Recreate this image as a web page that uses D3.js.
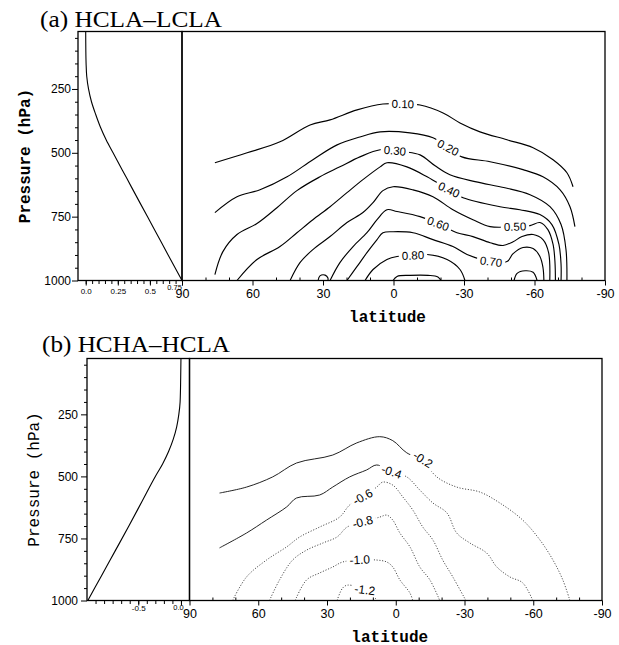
<!DOCTYPE html>
<html>
<head>
<meta charset="utf-8">
<script src="https://cdn.jsdelivr.net/npm/d3@7"></script>
<style>
  body { margin: 0; background: #fff; }
  svg { display: block; }
</style>
</head>
<body>
<svg id="chart" width="619" height="645"></svg>
<script>
// ---------- data ----------
const PRESSURE_TICKS = [250, 500, 750, 1000];
const LAT_TICKS = [90, 60, 30, 0, -30, -60, -90];

// zonal-mean profiles in the small left panels
const PROFILE_P_A = [25, 100, 150, 200, 250, 300, 350, 400, 450, 500, 600, 700, 800, 900, 1000];
const PROFILE_V_A = [0.0, 0.001, 0.003, 0.008, 0.022, 0.045, 0.078, 0.115, 0.16, 0.213, 0.32, 0.427, 0.535, 0.642, 0.75];
const PROFILE_TICKS_A = [0, 0.25, 0.5, 0.75];

const PROFILE_P_B = [25, 100, 200, 250, 300, 350, 400, 450, 500, 600, 700, 800, 900, 1000];
const PROFILE_V_B = [0.0, -0.003, -0.01, -0.025, -0.05, -0.09, -0.145, -0.215, -0.30, -0.455, -0.61, -0.77, -0.93, -1.09];
const PROFILE_TICKS_B = [-0.5, 0.0];

// contour lines, points are [latitude, pressure]
const CONTOUR_VALUES_A = [0.1, 0.2, 0.3, 0.4, 0.5, 0.6, 0.7, 0.8, 0.8, 0.9, 0.6];
const CONTOUR_LINES_A = [
  [[76,539],[62.3,500],[48.3,457],[35.5,391],[27,371],[15.5,332],[4.5,309],[-4,309],[-11.3,313],[-21.1,344],[-28.3,383],[-36.8,418],[-48.3,449],[-59.4,480],[-67.9,527],[-73.8,578],[-76.4,633]],
  [[76,734],[66.6,672],[56.8,645],[45.3,594],[34.3,527],[24,469],[14.3,438],[5.7,418],[-7,422],[-16.8,441],[-23.2,480],[-29.1,516],[-41.1,535],[-55.1,566],[-63.6,594],[-70.9,645],[-75.1,711],[-77.2,789]],
  [[76,977],[72.6,887],[66.6,820],[58.1,777],[49.6,715],[41.1,648],[31.3,594],[22.8,555],[14.3,516],[5.7,488],[-0.6,492],[-4.9,496],[-11.3,508],[-17.7,551],[-24,586],[-34.7,613],[-47.4,637],[-58.1,664],[-66.6,711],[-71.3,781],[-73.4,879],[-73.8,1000]],
  [[66.6,1000],[58.1,918],[48.3,867],[41.1,813],[34.3,762],[27,711],[19.8,656],[13,605],[5.7,555],[2.8,539],[-5.7,555],[-14.3,594],[-23.6,645],[-29.6,676],[-45.3,711],[-53.8,723],[-62.3,742],[-67.4,781],[-70.4,859],[-71.3,937],[-71.3,1000]],
  [[44,1000],[39.8,930],[34.3,879],[27,828],[19.8,773],[13,734],[8.7,695],[4.5,648],[0.2,633],[-8.3,645],[-16.8,672],[-25.3,723],[-33.8,762],[-41.1,789],[-51.7,789],[-58.1,785],[-62.3,773],[-65.7,801],[-67.9,859],[-68.7,926],[-68.9,1000]],
  [[27,1000],[22.8,930],[17.2,867],[11.3,813],[7,762],[2.8,723],[-1.5,730],[-11.3,750],[-19.8,781],[-27,813],[-33.8,828],[-41.1,852],[-46.6,863],[-50.9,848],[-54.7,828],[-59.4,820],[-63.6,840],[-66,891],[-66.5,1000]],
  [[19.8,1000],[15.5,945],[11.3,891],[7,840],[4.5,813],[0.2,809],[-8.3,813],[-16.8,840],[-25.3,867],[-31.3,898],[-41.5,926],[-48.3,926],[-50.9,895],[-55.1,871],[-59.4,875],[-62.3,906],[-63.6,949],[-64,1000]],
  [[12.1,1000],[8.7,957],[2.8,918],[-1.5,906],[-8.3,902],[-14.3,898],[-22.8,918],[-28.3,957],[-30.4,1000]],
  [[-51.3,1000],[-52.6,972],[-56,962],[-59.4,968],[-61.1,1000]],
  [[0.2,1000],[-1.5,984],[-7,980],[-14.7,980],[-18.9,986],[-20.2,1000]],
  [[32.1,1000],[31.3,982],[29.1,979],[27.9,990],[27.9,1000]]
];
const LABEL_LAT_A = [-4, -23.2, -0.6, -23.6, -51.7, -19, -41.5, -8.3, null, null, null];

const CONTOUR_VALUES_B = [-0.2, -0.4, -0.6, -0.8, -1.0, -1.2];
const CONTOUR_LINES_B = [
  [[76.9,567],[65.1,543],[53.7,502],[43.3,446],[27.5,414],[17,365],[7,340],[1.3,356],[-4.8,405],[-11.8,433],[-17.9,502],[-26.6,543],[-36.7,563],[-45.4,607],[-55.4,676],[-62.9,756],[-68.6,837],[-72.9,917],[-76,1000]],
  [[76.9,788],[65.1,728],[56.4,676],[47.6,623],[43.3,587],[33.2,575],[27.5,543],[20.1,502],[12.7,474],[8.3,454],[1.8,482],[-4.8,502],[-10.5,555],[-16.2,607],[-22.3,647],[-26.6,728],[-32.3,768],[-39.7,809],[-44.1,865],[-49.8,905],[-55.4,929],[-59.8,1000]],
  [[71.2,1000],[65.1,905],[56.4,837],[47.6,784],[41.9,744],[33.2,704],[24.5,664],[20.1,615],[14.4,583],[8.3,543],[5.7,523],[1.3,535],[-3.1,583],[-7.4,635],[-11.8,704],[-16.2,756],[-20.5,837],[-24.9,905],[-30.6,1000]],
  [[55.1,1000],[50.7,917],[45,837],[38.9,797],[31.7,768],[25.6,744],[21.2,704],[14.4,684],[7,664],[3.9,656],[1.3,676],[-1.8,728],[-6.2,784],[-10.5,865],[-14.9,917],[-19.2,1000]],
  [[43.9,1000],[38.9,917],[33.2,889],[27.5,865],[23.2,845],[15.7,837],[8.3,837],[3.9,845],[1.3,865],[-1.8,917],[-6.2,970],[-7.4,1000]],
  [[25.6,1000],[23.2,950],[21,938],[13.5,958],[7.9,1000]]
];
const LABEL_LAT_B = [-11.8, 1.8, 14.4, 14.4, 15.7, 13.5];
// the lines are drawn solid north of this latitude and dotted south of it
const SOLID_TO_LAT_B = [-11.8, 1.8, 90, 90, 90, 90];

// ---------- drawing ----------
const svg = d3.select("#chart");
const SANS = "'Liberation Sans', Arial, Helvetica, sans-serif";
const MONO = "'Liberation Mono', 'Courier New', monospace";
const SERIF = "'Liberation Serif', 'Times New Roman', serif";

const panels = [
  {
    title: "(a) HCLA\u2013LCLA", titleX: 40, titleY: 27, titleW: 182,
    left: 78, mid: 182, right: 605, top: 31.5, bottom: 280.5,
    profDomain: [-0.06, 0.75], profP: PROFILE_P_A, profV: PROFILE_V_A,
    profTicks: PROFILE_TICKS_A, profMinor: d3.range(0, 0.76, 0.05), profPad: 3, lastDx: -8,
    pPad: 1, pLabelX: 26, pBold: true,
    values: CONTOUR_VALUES_A, lines: CONTOUR_LINES_A, labelLat: LABEL_LAT_A,
    solidTo: null, digits: 2, labelSize: 11.5
  },
  {
    title: "(b) HCHA\u2013HCLA", titleX: 42, titleY: 352, titleW: 188,
    left: 87, mid: 189.5, right: 602, top: 358.5, bottom: 600.5,
    profDomain: [-1.1, 0.1], profP: PROFILE_P_B, profV: PROFILE_V_B,
    profTicks: PROFILE_TICKS_B, profMinor: d3.range(-1.0, 0.05, 0.1), profPad: 0, lastDx: -3,
    pPad: 3, pLabelX: 35, pBold: false,
    values: CONTOUR_VALUES_B, lines: CONTOUR_LINES_B, labelLat: LABEL_LAT_B,
    solidTo: SOLID_TO_LAT_B, digits: 1, labelSize: 12
  }
];

const profFormat = d => (d === 0 ? "0.0" : String(d));

function styleAxis(sel, size) {
  sel.select(".domain").remove();
  sel.selectAll(".tick line").attr("stroke", "#000").attr("stroke-width", 1);
  sel.selectAll(".tick text").attr("fill", "#000")
    .attr("font-family", SANS).attr("font-size", size);
}

// y position on a pixel polyline at pixel x = tx
function yAtX(px, tx) {
  for (let i = 0; i < px.length - 1; i++) {
    const a = px[i], b = px[i + 1];
    if (a[0] !== b[0] && (a[0] - tx) * (b[0] - tx) <= 0) {
      const t = (tx - a[0]) / (b[0] - a[0]);
      return { i, y: a[1] + t * (b[1] - a[1]) };
    }
  }
  return null;
}

panels.forEach((cfg, k) => {
  const g = svg.append("g");
  const x = d3.scaleLinear().domain([90, -90]).range([cfg.mid, cfg.right]);
  const y = d3.scaleLinear().domain([25, 1000]).range([cfg.top, cfg.bottom]);
  const xp = d3.scaleLinear().domain(cfg.profDomain).range([cfg.left, cfg.mid]);

  // title
  svg.append("text")
    .attr("x", cfg.titleX).attr("y", cfg.titleY)
    .attr("font-family", SERIF).attr("font-size", 23)
    .attr("textLength", cfg.titleW).attr("lengthAdjust", "spacingAndGlyphs")
    .text(cfg.title);

  // contours, clipped to the main frame
  const clipId = "clip" + k;
  svg.append("clipPath").attr("id", clipId).append("rect")
    .attr("x", cfg.mid).attr("y", cfg.top)
    .attr("width", cfg.right - cfg.mid).attr("height", cfg.bottom - cfg.top);
  const cg = g.append("g").attr("clip-path", `url(#${clipId})`);
  const line = d3.line().curve(d3.curveCatmullRom.alpha(0.5));
  const labels = [];

  cfg.lines.forEach((pts, i) => {
    const px = pts.map(d => [x(d[0]), y(d[1])]);
    const cut = cfg.solidTo ? cfg.solidTo[i] : -90;
    let solid = px, dotted = null;
    if (cut < 90 && cut > -90) {
      const cx = x(cut);
      const hit = yAtX(px, cx);
      solid = px.slice(0, hit.i + 1).concat([[cx, hit.y]]);
      dotted = [[cx, hit.y]].concat(px.slice(hit.i + 1));
    } else if (cut >= 90) {
      solid = null; dotted = px;
    }
    const isB = !!cfg.solidTo;
    if (solid) {
      cg.append("path").attr("d", line(solid)).attr("fill", "none")
        .attr("stroke", isB ? "#222" : "#000").attr("stroke-width", isB ? 1 : 1.15);
    }
    if (dotted) {
      cg.append("path").attr("d", line(dotted)).attr("fill", "none")
        .attr("stroke", "#444").attr("stroke-width", 1)
        .attr("stroke-dasharray", "1.1 1.7");
    }
    const lat = cfg.labelLat[i];
    if (lat !== null && lat !== undefined) {
      const tx = x(lat);
      const c = yAtX(px, tx);
      const a = yAtX(px, tx - 15) || c;
      const b = yAtX(px, tx + 15) || c;
      const ang = 0.85 * Math.atan2(b.y - a.y, 30) * 180 / Math.PI;
      labels.push({ x: tx, y: c.y, ang, text: cfg.values[i].toFixed(cfg.digits) });
    }
  });

  labels.forEach(l => {
    const lg = cg.append("g").attr("transform", `translate(${l.x},${l.y}) rotate(${l.ang})`);
    const rect = lg.append("rect").attr("fill", "#fff");
    const t = lg.append("text")
      .attr("text-anchor", "middle").attr("dominant-baseline", "central")
      .attr("font-family", SANS).attr("font-size", cfg.labelSize)
      .text(l.text);
    const bb = t.node().getBBox();
    rect.attr("x", bb.x - 3).attr("y", bb.y + 1).attr("width", bb.width + 6).attr("height", bb.height - 2);
  });

  // profile in the left panel
  const prof = cfg.profP.map((p, i) => [xp(cfg.profV[i]), y(p)]);
  g.append("path")
    .attr("d", d3.line().curve(d3.curveMonotoneY)(prof))
    .attr("fill", "none").attr("stroke", "#000").attr("stroke-width", 1.1);

  // frames
  [[cfg.left, cfg.mid], [cfg.mid, cfg.right]].forEach(([x0, x1]) => {
    g.append("rect").attr("x", x0).attr("y", cfg.top)
      .attr("width", x1 - x0).attr("height", cfg.bottom - cfg.top)
      .attr("fill", "none").attr("stroke", "#000").attr("stroke-width", 1.3);
  });

  // pressure axis
  g.append("g").attr("transform", `translate(${cfg.left},0)`)
    .call(d3.axisLeft(y).tickValues(d3.range(50, 1000, 50).filter(v => v % 250)).tickSize(3).tickFormat(""))
    .call(s => styleAxis(s, 12));
  g.append("g").attr("transform", `translate(${cfg.left},0)`)
    .call(d3.axisLeft(y).tickValues(PRESSURE_TICKS).tickSize(6).tickPadding(cfg.pPad).tickFormat(d => String(d)))
    .call(s => styleAxis(s, 12));

  // latitude axis
  g.append("g").attr("transform", `translate(0,${cfg.bottom})`)
    .call(d3.axisBottom(x).tickValues(d3.range(-80, 90, 10).filter(v => v % 30)).tickSize(-3).tickFormat(""))
    .call(s => styleAxis(s, 12.5));
  g.append("g").attr("transform", `translate(0,${cfg.bottom})`)
    .call(d3.axisBottom(x).tickValues(LAT_TICKS).tickSize(5).tickPadding(4).tickFormat(d => String(d)))
    .call(s => styleAxis(s, 12.5));

  // profile value axis; the last label sits raised, squeezed against the "90"
  g.append("g").attr("transform", `translate(0,${cfg.bottom})`)
    .call(d3.axisBottom(xp).tickValues(cfg.profMinor).tickSize(3.5).tickFormat(""))
    .call(s => styleAxis(s, 8));
  g.append("g").attr("transform", `translate(0,${cfg.bottom})`)
    .call(d3.axisBottom(xp).tickValues(cfg.profTicks).tickSize(5).tickPadding(cfg.profPad).tickFormat(profFormat))
    .call(s => styleAxis(s, 8))
    .call(s => s.selectAll(".tick:last-of-type text").attr("font-size", 7.5).attr("dx", cfg.lastDx).attr("y", 4));

  // axis titles
  svg.append("text")
    .attr("transform", `translate(${cfg.pLabelX},${(cfg.top + cfg.bottom) / 2}) rotate(-90)`)
    .attr("text-anchor", "middle").attr("dominant-baseline", "central")
    .attr("font-family", MONO).attr("font-size", 16)
    .attr("font-weight", cfg.pBold ? "bold" : "normal")
    .text("Pressure (hPa)");
  svg.append("text")
    .attr("x", (cfg.mid + cfg.right) / 2 - 6).attr("y", cfg.bottom + 41)
    .attr("text-anchor", "middle")
    .attr("font-family", MONO).attr("font-size", 16).attr("font-weight", "bold")
    .text("latitude");
});
</script>
</body>
</html>
